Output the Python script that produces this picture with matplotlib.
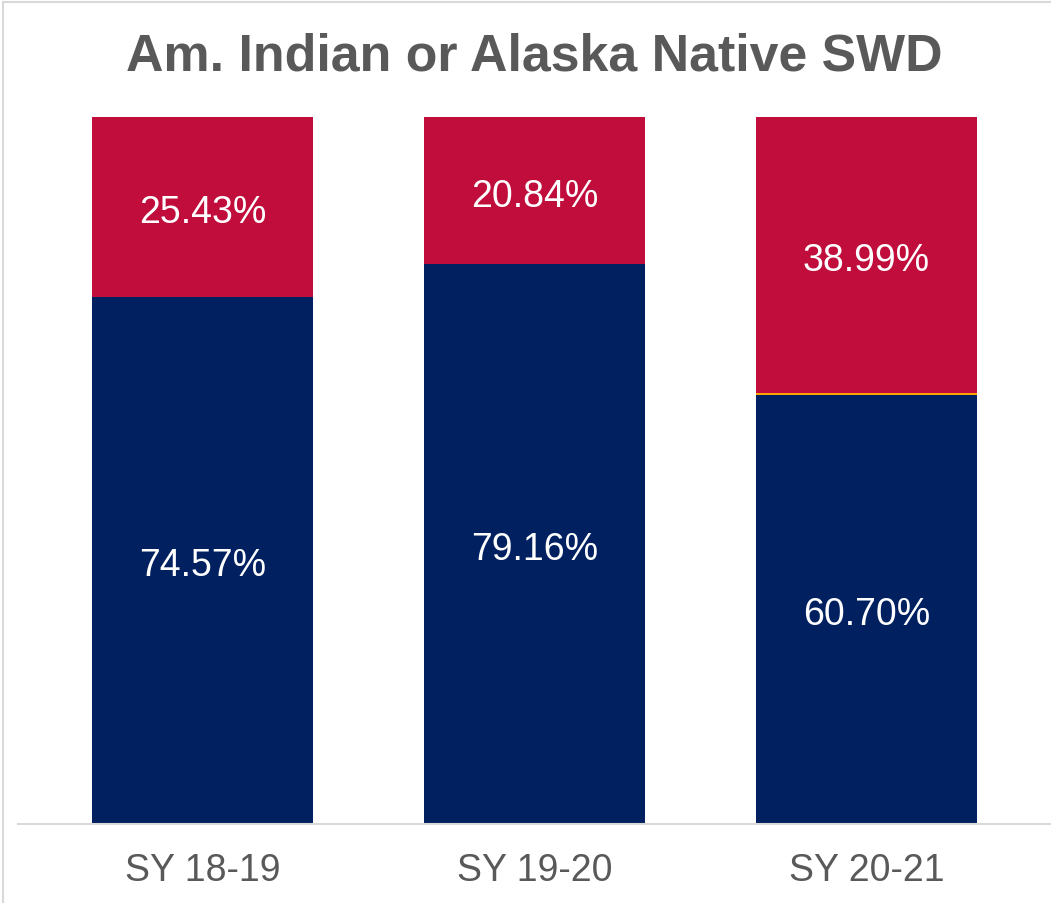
import matplotlib
matplotlib.use("Agg")
import matplotlib.pyplot as plt
from matplotlib.lines import Line2D

plt.rcParams['font.family'] = ['Liberation Sans', 'DejaVu Sans']

title = "Am. Indian or Alaska Native SWD"
categories = ["SY 18-19", "SY 19-20", "SY 20-21"]
bottom_vals = [74.57, 79.16, 60.70]
top_vals = [25.43, 20.84, 38.99]
third_vals = [0.0, 0.0, 0.31]

navy = "#002060"
red = "#C00D3C"
orange = "#FFA500"
gray = "#595959"

W, H = 1051, 904
fig = plt.figure(figsize=(W / 100, H / 100), dpi=100)
ax = fig.add_axes([18 / W, (H - 825) / H, 1 - 18 / W, 707 / H])

x = list(range(len(categories)))
bw = 0.666
ax.bar(x, bottom_vals, width=bw, color=navy, zorder=2)
mid_bottom = [b + t for b, t in zip(bottom_vals, third_vals)]
ax.bar(x, third_vals, width=bw, bottom=bottom_vals, color=orange, zorder=2)
ax.bar(x, top_vals, width=bw, bottom=mid_bottom, color=red, zorder=2)

for i in x:
    ax.annotate(f"{bottom_vals[i]:.2f}%", (i, bottom_vals[i] / 2), xytext=(0, -3.5),
                textcoords="offset points", ha="center", va="center",
                color="white", fontsize=27)
    ax.annotate(f"{top_vals[i]:.2f}%", (i, mid_bottom[i] + top_vals[i] / 2), xytext=(0, -3.5),
                textcoords="offset points", ha="center", va="center",
                color="white", fontsize=27)

ax.set_xlim(-0.5557, 2.5557)
ax.set_ylim(0, 100)
ax.set_xticks(x)
ax.set_xticklabels(categories, fontsize=27, color=gray)
ax.tick_params(axis="x", length=0, pad=20)
ax.set_yticks([])
for s in ["top", "right", "left"]:
    ax.spines[s].set_visible(False)
ax.spines["bottom"].set_color("#D9D9D9")
ax.spines["bottom"].set_linewidth(1.5)

fig.text(534 / W, 1 - 57 / H, title, ha="center", va="center", fontsize=37.4,
         fontweight="bold", color=gray)

fig.add_artist(Line2D([3 / W, 3 / W], [0, 1 - 3 / H], color="#D9D9D9", lw=1.5))
fig.add_artist(Line2D([3 / W, 1], [1 - 3 / H, 1 - 3 / H], color="#D9D9D9", lw=1.5))

fig.savefig("out.png", dpi=100)
